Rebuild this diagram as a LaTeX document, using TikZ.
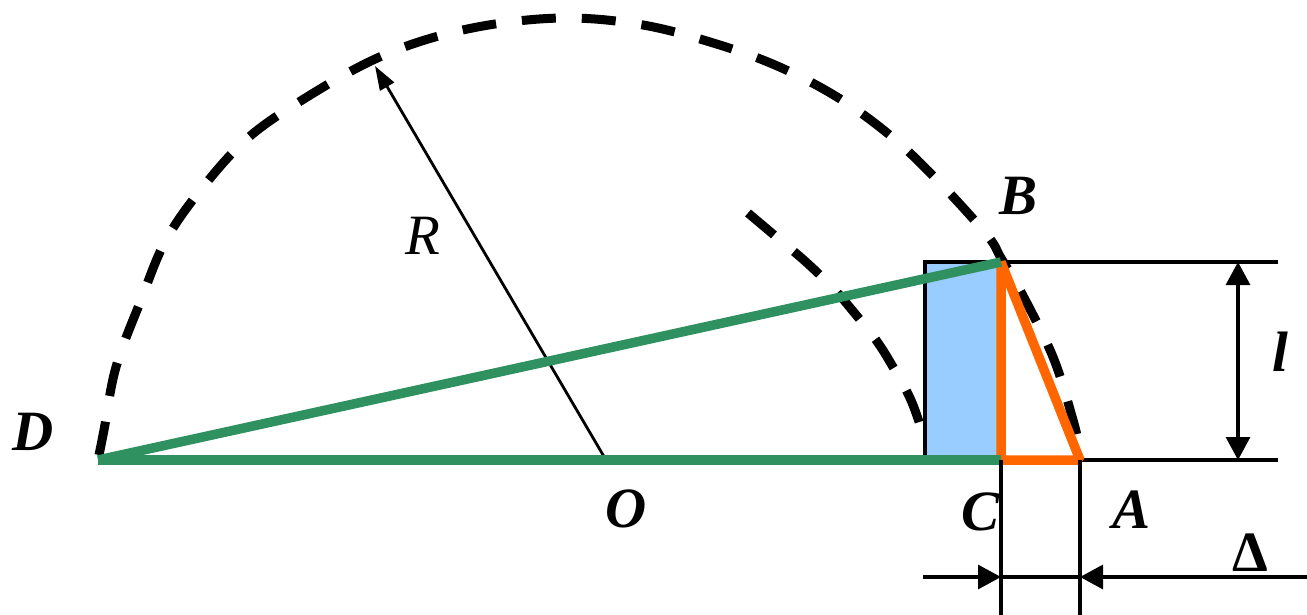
\documentclass[tikz,border=0pt]{standalone}
\usepackage{fontspec}
\setmainfont{Liberation Serif}
\usetikzlibrary{arrows.meta}
\definecolor{grn}{RGB}{46,145,95}
\definecolor{org}{RGB}{255,102,0}
\definecolor{lblue}{RGB}{153,204,255}
\begin{document}
\begin{tikzpicture}[x=1pt,y=-1pt,
  lbl/.style={font=\fontsize{57}{62}\selectfont\bfseries\itshape, inner sep=0pt},
  lblit/.style={font=\fontsize{57}{62}\selectfont\itshape, inner sep=0pt},
  lblup/.style={font=\fontsize{57}{62}\selectfont\bfseries, inner sep=0pt},
  guide/.style={line width=3.2pt, black},
  arcd/.style={line width=9pt, dash pattern=on 34pt off 26pt},
  grnl/.style={grn, line width=9.5pt},
  orgl/.style={org, line width=9.5pt, line join=bevel},
  dimtip/.style={-{Triangle[length=23pt,width=24pt]}},
  dimtips/.style={{Triangle[length=23pt,width=24pt]}-{Triangle[length=23pt,width=24pt]}}]
\useasboundingbox (0,0) rectangle (1307,615);
% points
\coordinate (D) at (98,460);
\coordinate (O) at (606,460);
\coordinate (C) at (1001,460);
\coordinate (A) at (1080,460);
\coordinate (B) at (1001,262);
\coordinate (Rt) at (375,66);
\coordinate (Q) at (925,262);
\coordinate (Q2) at (925,460);
\coordinate (T1) at (1278,262);
\coordinate (T2) at (1278,460);
\coordinate (L1) at (1238,262);
\coordinate (L2) at (1238,460);
\coordinate (V1) at (1001,615);
\coordinate (V2) at (1080,615);
\coordinate (H0) at (923,577);
\coordinate (H1) at (1001,577);
\coordinate (H2) at (1080,577);
\coordinate (H3) at (1307,577);
% blue block
\fill[lblue] (Q) rectangle (C);
\draw[guide] (T1) -- (Q) -- (Q2);
\draw[guide] (A) -- (T2);
% dashed arcs
\draw[arcd] plot[smooth, tension=0.6] coordinates {(99,455) (104,430) (116,367) (141,300) (166,240) (203,187) (249,137) (307,97) (373,60) (435,37) (502,23) (572,18) (643,25) (710,42) (775,65) (837,97) (892,137) (940,183) (987,235) (1001,258) (1020,290) (1053,357) (1073,420) (1080,450)};
\draw[arcd] plot[smooth, tension=0.6] coordinates {(748,213) (780,240) (806,262) (833,288) (852,310) (876,340) (893,367) (910,398) (921,428) (924,442)};
% radius arrow
\draw[line width=2.8pt, -{Triangle[length=24pt,width=16pt]}] (O) -- (Rt);
% orange triangle
\draw[orgl] (C) -- (B) -- (A) -- cycle;
% green lines
\draw[grnl] (D) -- (C);
\draw[grnl] (D) -- (B);
% dimension l
\draw[guide, dimtips] (L1) -- (L2);
% dimension Delta
\draw[guide] (C) -- (V1);
\draw[guide] (A) -- (V2);
\draw[guide, dimtip] (H0) -- (H1);
\draw[guide] (H1) -- (H2);
\draw[guide, dimtip] (H3) -- (H2);
% labels
\node[lbl] (lD) at (33,432) {D};
\node[lbl] (lO) at (626,509) {O};
\node[lbl] (lC) at (980,512) {C};
\node[lbl] (lA) at (1131,510) {A};
\node[lbl] (lB) at (1018,196) {B};
\node[lblit] (lR) at (423,236) {R};
\node[lbl] (ll) at (1280,352) {l};
\node[lblup] (lDelta) at (1250,553) {Δ};
\end{tikzpicture}
\end{document}
